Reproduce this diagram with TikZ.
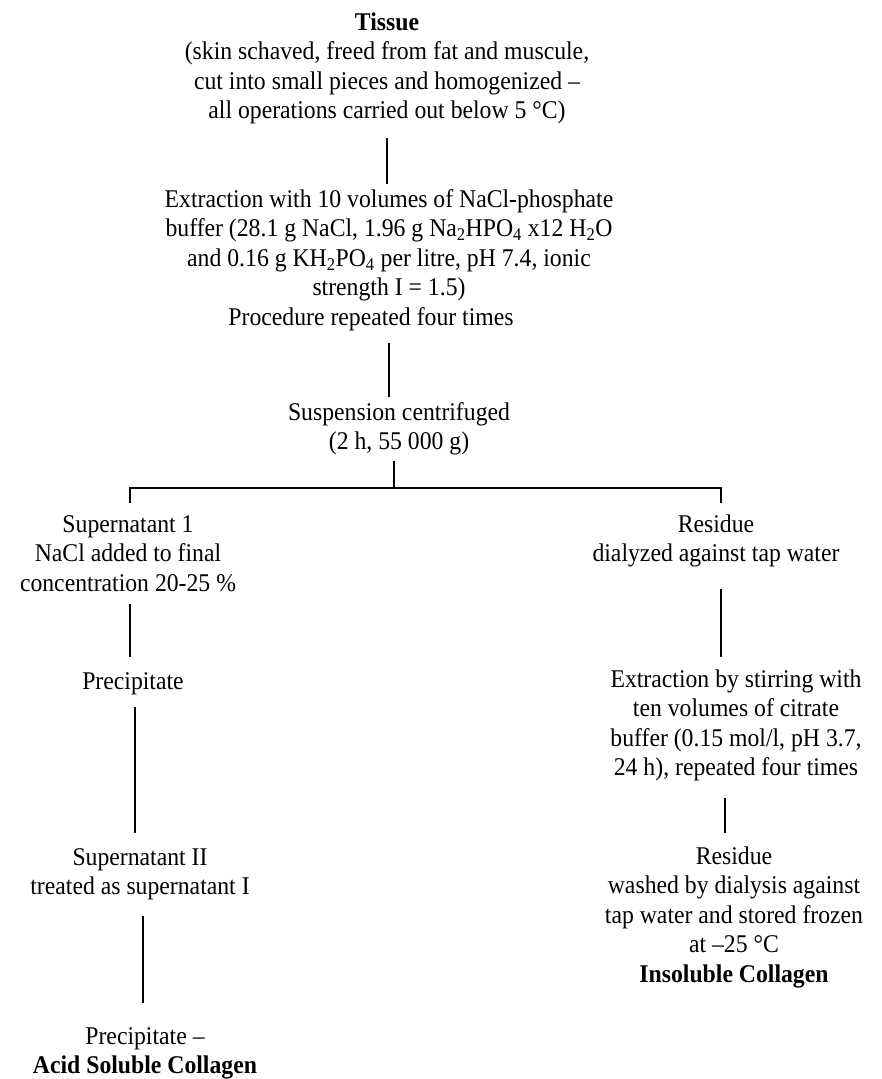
\documentclass[tikz,border=0pt]{standalone}
\usepackage{fontspec}
\setmainfont[FakeStretch=0.93]{Liberation Serif}
\begin{document}
\begin{tikzpicture}[x=1pt,y=1pt]
\tikzset{
  txt/.style={align=center, inner sep=0pt, anchor=north, font=\fontsize{25.5}{29.5}\selectfont},
  link/.style={line width=1.7pt},
}
\useasboundingbox (0,0) rectangle (881,-1079);

\node[txt] (tissue) at (387,-9.5) {\strut\textbf{Tissue}\\(skin schaved, freed from fat and muscule,\\cut into small pieces and homogenized –\\all operations carried out below 5 °C)\strut};

\node[txt] (extr) at (389,-186.5) {\strut Extraction with 10 volumes of NaCl-phosphate\\buffer (28.1 g NaCl, 1.96 g Na\textsubscript{2}HPO\textsubscript{4} x12 H\textsubscript{2}O\\and 0.16 g KH\textsubscript{2}PO\textsubscript{4} per litre, pH 7.4, ionic\\strength I = 1.5)\\Procedure repeated four times\hspace*{36pt}\strut};

\node[txt] (susp) at (399,-399.5) {\strut Suspension centrifuged\\(2 h, 55 000 g)\strut};

\node[txt] (sup1) at (128,-511.5) {\strut Supernatant 1\\NaCl added to final\\concentration 20-25 \%\strut};

\node[txt] (res1) at (716,-511.5) {\strut Residue\\dialyzed against tap water\strut};

\node[txt] (prec1) at (133,-668.5) {\strut Precipitate\strut};

\node[txt] (extr2) at (736,-666.5) {\strut Extraction by stirring with\\ten volumes of citrate\\buffer (0.15 mol/l, pH 3.7,\\24 h), repeated four times\strut};

\node[txt] (sup2) at (140,-844.5) {\strut Supernatant II\\treated as supernatant I\strut};

\node[txt] (res2) at (734,-843.5) {\strut Residue\\washed by dialysis against\\tap water and stored frozen\\at –25 °C\\\textbf{Insoluble Collagen}\strut};

\node[txt] (prec2) at (145,-1023.5) {\strut Precipitate –\\\textbf{Acid Soluble Collagen}\strut};

\coordinate (bj) at (394,-488);
\coordinate (dl) at (130,-503);
\coordinate (dr) at (721,-503);
\coordinate (p1s) at ([xshift=2pt]prec1.south);
\coordinate (s2s) at ([xshift=3pt]sup2.south);
\coordinate (r1s) at ([xshift=5pt]res1.south);
\coordinate (e2s) at ([xshift=-11pt]extr2.south);

\draw[link, shorten <=10pt, shorten >=2.5pt] (tissue.south) -- (tissue.south |- extr.north);
\draw[link, shorten <=9pt, shorten >=2.5pt] (extr.south) -- (extr.south |- susp.north);
\draw[link, shorten <=2pt] (susp.south -| bj) -- (bj);
\draw[link] (dl) |- (bj) -| (dr);
\draw[link, shorten <=4pt, shorten >=11.5pt] (sup1.south -| dl) -- (dl |- prec1.north);
\draw[link, shorten <=9pt, shorten >=11.5pt] (p1s) -- (p1s |- sup2.north);
\draw[link, shorten <=12pt, shorten >=20.5pt] (s2s) -- (s2s |- prec2.north);
\draw[link, shorten <=18pt, shorten >=9.5pt] (r1s) -- (r1s |- extr2.north);
\draw[link, shorten <=13pt, shorten >=10.5pt] (e2s) -- (e2s |- res2.north);
\end{tikzpicture}
\end{document}
